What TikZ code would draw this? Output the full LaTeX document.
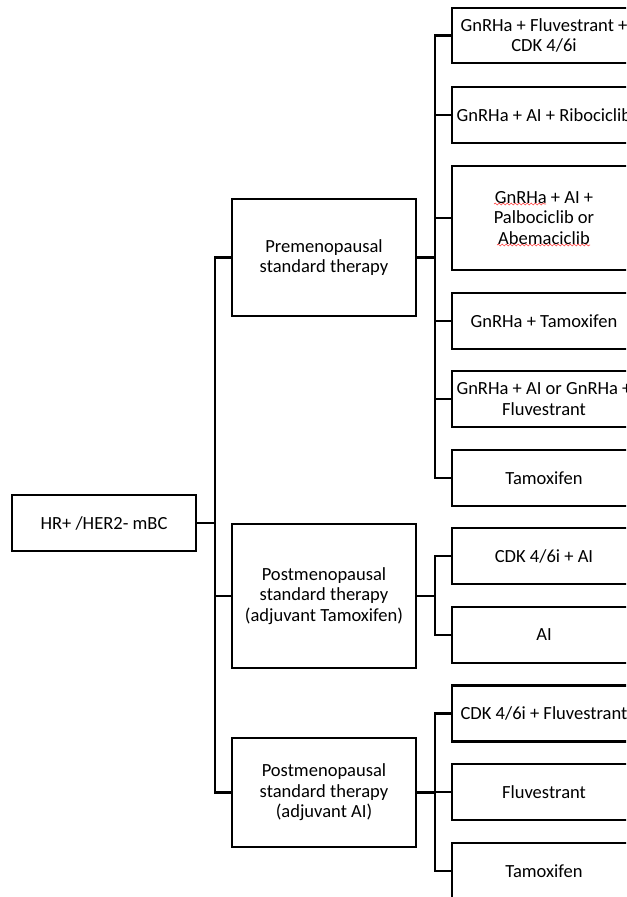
\documentclass[tikz,border=0pt]{standalone}
\usepackage{fontspec}
\setmainfont{Carlito}
\usetikzlibrary{decorations.pathmorphing}

\tikzset{
    therapy/.style={draw, line width=1.6pt, align=center, inner xsep=1pt,
        minimum width=138pt, minimum height=#1,
        font=\fontsize{13.9}{15.4}\selectfont},
    therapy/.default=42pt,
    link/.style={line width=1.6pt},
    spell/.style={draw=red!70, line width=0.5pt, decorate,
        decoration={snake, amplitude=0.7pt, segment length=3pt}},
}

\begin{document}
\begin{tikzpicture}[x=0.75pt, y=-0.75pt]
    \useasboundingbox (0,0) rectangle (626,897);
    \clip (0,0) rectangle (626,897);

    % Root:
    \node [therapy] (root) at (104,523) {HR+ /HER2- mBC};

    % Groups:
    \node [therapy=87.75pt] (pre)   at (324,257.5) {Premenopausal\\standard therapy};
    \node [therapy=108pt]   (postT) at (324,596)   {Postmenopausal\\standard therapy\\(adjuvant Tamoxifen)};
    \node [therapy=81.75pt] (postA) at (324,792.5) {Postmenopausal\\standard therapy\\(adjuvant AI)};

    % Premenopausal options:
    \node [therapy=41.25pt] (pre1) at (544,35.5) {GnRHa + Fluvestrant +\\CDK 4/6i};
    \node [therapy]         (pre2) at (544,115)  {GnRHa + AI + Ribociclib};
    \node [therapy=78pt]    (pre3) at (544,218)  {GnRHa + AI +\\Palbociclib or\\Abemaciclib};
    \node [therapy]         (pre4) at (544,321)  {GnRHa + Tamoxifen};
    \node [therapy]         (pre5) at (544,399)  {GnRHa + AI or GnRHa +\\Fluvestrant};
    \node [therapy]         (pre6) at (544,478)  {Tamoxifen};

    % Postmenopausal options (adjuvant Tamoxifen):
    \node [therapy] (postT1) at (544,556) {CDK 4/6i + AI};
    \node [therapy] (postT2) at (544,635) {AI};

    % Postmenopausal options (adjuvant AI):
    \node [therapy] (postA1) at (544,713.5) {CDK 4/6i + Fluvestrant};
    \node [therapy] (postA2) at (544,792)   {Fluvestrant};
    \node [therapy] (postA3) at (544,871)   {Tamoxifen};

    % Spell-check marks under GnRHa and Abemaciclib:
    \draw [spell] ([shift={(-50,-14)}]pre3.center) -- ++(52,0);
    \draw [spell] ([shift={(-47,27)}]pre3.center) -- ++(93,0);

    % Connectors:
    \foreach \g in {pre,postT,postA}
        \draw [link] (root.east) -- ++(18,0) |- (\g.west);
    \foreach \c in {pre1,pre2,pre3,pre4,pre5,pre6}
        \draw [link] (pre.east) -- ++(18,0) |- (\c.west);
    \foreach \c in {postT1,postT2}
        \draw [link] (postT.east) -- ++(18,0) |- (\c.west);
    \foreach \c in {postA1,postA2,postA3}
        \draw [link] (postA.east) -- ++(18,0) |- (\c.west);
\end{tikzpicture}
\end{document}
